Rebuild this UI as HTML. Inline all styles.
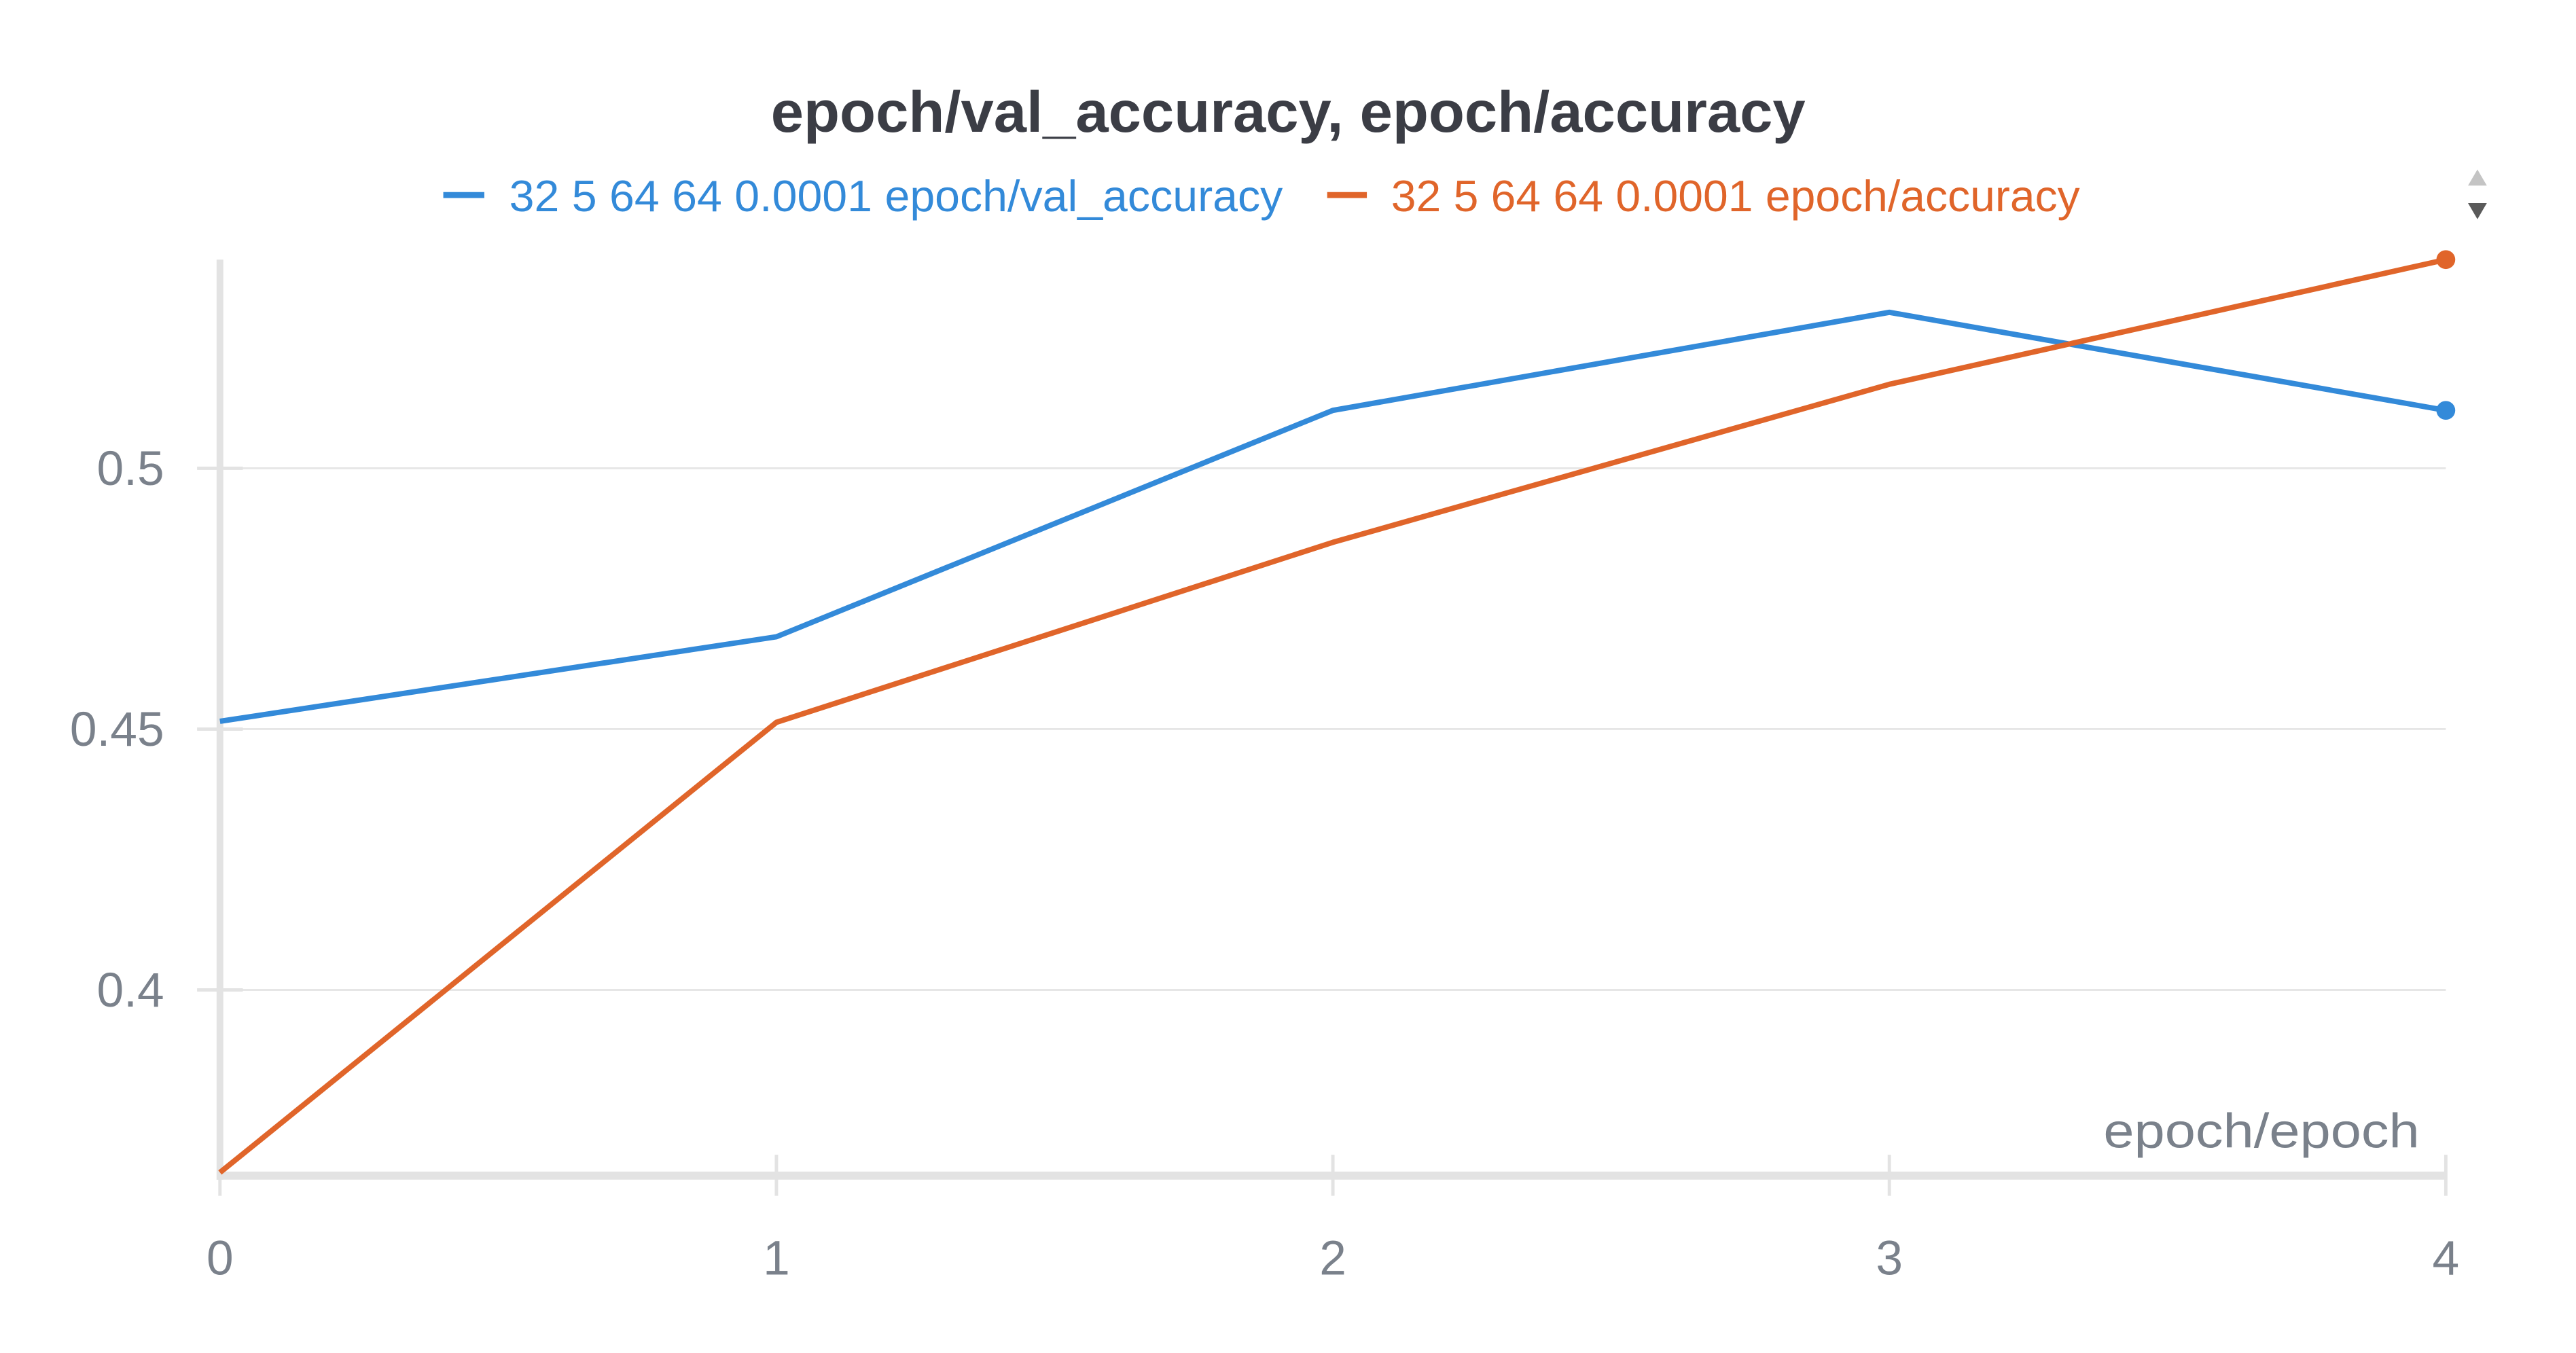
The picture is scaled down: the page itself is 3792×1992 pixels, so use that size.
<!DOCTYPE html>
<html><head><meta charset="utf-8"><style>
html,body{margin:0;padding:0;background:#fff;}
svg{display:block;font-family:"Liberation Sans",sans-serif;}
</style></head><body>
<svg id="chart" width="3792" height="1992" viewBox="0 0 3792 1992">
<g transform="scale(0.9902)">
<text x="1915" y="196" text-anchor="middle" font-size="86" font-weight="bold" fill="#3b3d45" textLength="1538" lengthAdjust="spacingAndGlyphs">epoch/val_accuracy, epoch/accuracy</text>
<g>
<line x1="659" y1="290" x2="720" y2="290" stroke="#338ad9" stroke-width="9"/>
<text x="757" y="314" font-size="66" fill="#338ad9" textLength="1150" lengthAdjust="spacingAndGlyphs">32 5 64 64 0.0001 epoch/val_accuracy</text>
</g>
<g>
<line x1="1973" y1="290" x2="2032" y2="290" stroke="#e0652a" stroke-width="9"/>
<text x="2068" y="314" font-size="66" fill="#e0652a" textLength="1024" lengthAdjust="spacingAndGlyphs">32 5 64 64 0.0001 epoch/accuracy</text>
</g>
<g>
<path d="M3683 252 L3697 276 L3669 276 Z" fill="#c4c4c4"/>
<path d="M3683 326 L3697 302 L3669 302 Z" fill="#5a5a5a"/>
</g>
<g id="grid"></g>
<g id="axes"></g>
<g id="series"></g>
<text x="3597" y="1706" text-anchor="end" font-size="72" fill="#7a818b" textLength="470" lengthAdjust="spacingAndGlyphs">epoch/epoch</text>
</g>
</svg>
<script>
const epochs = [0, 1, 2, 3, 4];
const valAccuracy = [0.4515, 0.4677, 0.5111, 0.5299, 0.5111];
const accuracy = [0.3650, 0.4513, 0.4858, 0.5161, 0.5400];
const yTicks = [0.4, 0.45, 0.5];
const yTickLabels = ["0.4", "0.45", "0.5"];
const xTickLabels = ["0", "1", "2", "3", "4"];

const NS = "http://www.w3.org/2000/svg";
const X0 = 327, X1 = 3636, Y0 = 1748, Y1 = 386;
const yMin = 0.3644, yMax = 0.5400;
function xs(v){ return X0 + (v - 0) / (4 - 0) * (X1 - X0); }
function ys(v){ return Y0 - (v - yMin) / (yMax - yMin) * (Y0 - Y1); }
function mk(tag, attrs, parent){
  const e = document.createElementNS(NS, tag);
  for (const k in attrs) e.setAttribute(k, attrs[k]);
  parent.appendChild(e); return e;
}
const grid = document.getElementById('grid');
const axes = document.getElementById('axes');
const series = document.getElementById('series');

yTicks.forEach((t, i) => {
  const g = mk('line', {x1: X0, x2: X1, y1: ys(t), y2: ys(t), stroke: '#e6e6e6', 'stroke-width': 3}, grid);
  
  
  const tk = mk('line', {x1: 293, x2: 361, y1: ys(t), y2: ys(t), stroke: '#e3e3e3', 'stroke-width': 5}, axes);
  
  
  const lb = mk('text', {x: 244, y: ys(t) + 25, 'text-anchor': 'end', 'font-size': 72, fill: '#7a818b'}, axes);
  lb.textContent = yTickLabels[i];
  
  
});
const ya = mk('line', {x1: X0, x2: X0, y1: Y1, y2: Y0 + 6, stroke: '#e3e3e3', 'stroke-width': 10}, axes);


const xa = mk('line', {x1: X0 - 5, x2: X1, y1: Y0, y2: Y0, stroke: '#e3e3e3', 'stroke-width': 12}, axes);


epochs.forEach((e, i) => {
  const tk = mk('line', {x1: xs(e), x2: xs(e), y1: 1717, y2: 1778, stroke: '#e3e3e3', 'stroke-width': 5}, axes);
  
  
  const lb = mk('text', {x: xs(e), y: 1895, 'text-anchor': 'middle', 'font-size': 72, fill: '#7a818b'}, axes);
  lb.textContent = xTickLabels[i];
  
  
});
function drawSeries(vals, color, name){
  const pts = vals.map((v, i) => xs(epochs[i]) + ',' + ys(v)).join(' ');
  const pl = mk('polyline', {points: pts, fill: 'none', stroke: color, 'stroke-width': 8, 'stroke-linejoin': 'round'}, series);
  
  
  const last = vals.length - 1;
  const c = mk('circle', {cx: xs(epochs[last]), cy: ys(vals[last]), r: 14, fill: color}, series);
  
  
}
drawSeries(valAccuracy, '#338ad9', 'val-accuracy');
drawSeries(accuracy, '#e0652a', 'accuracy');
</script>
</body></html>
